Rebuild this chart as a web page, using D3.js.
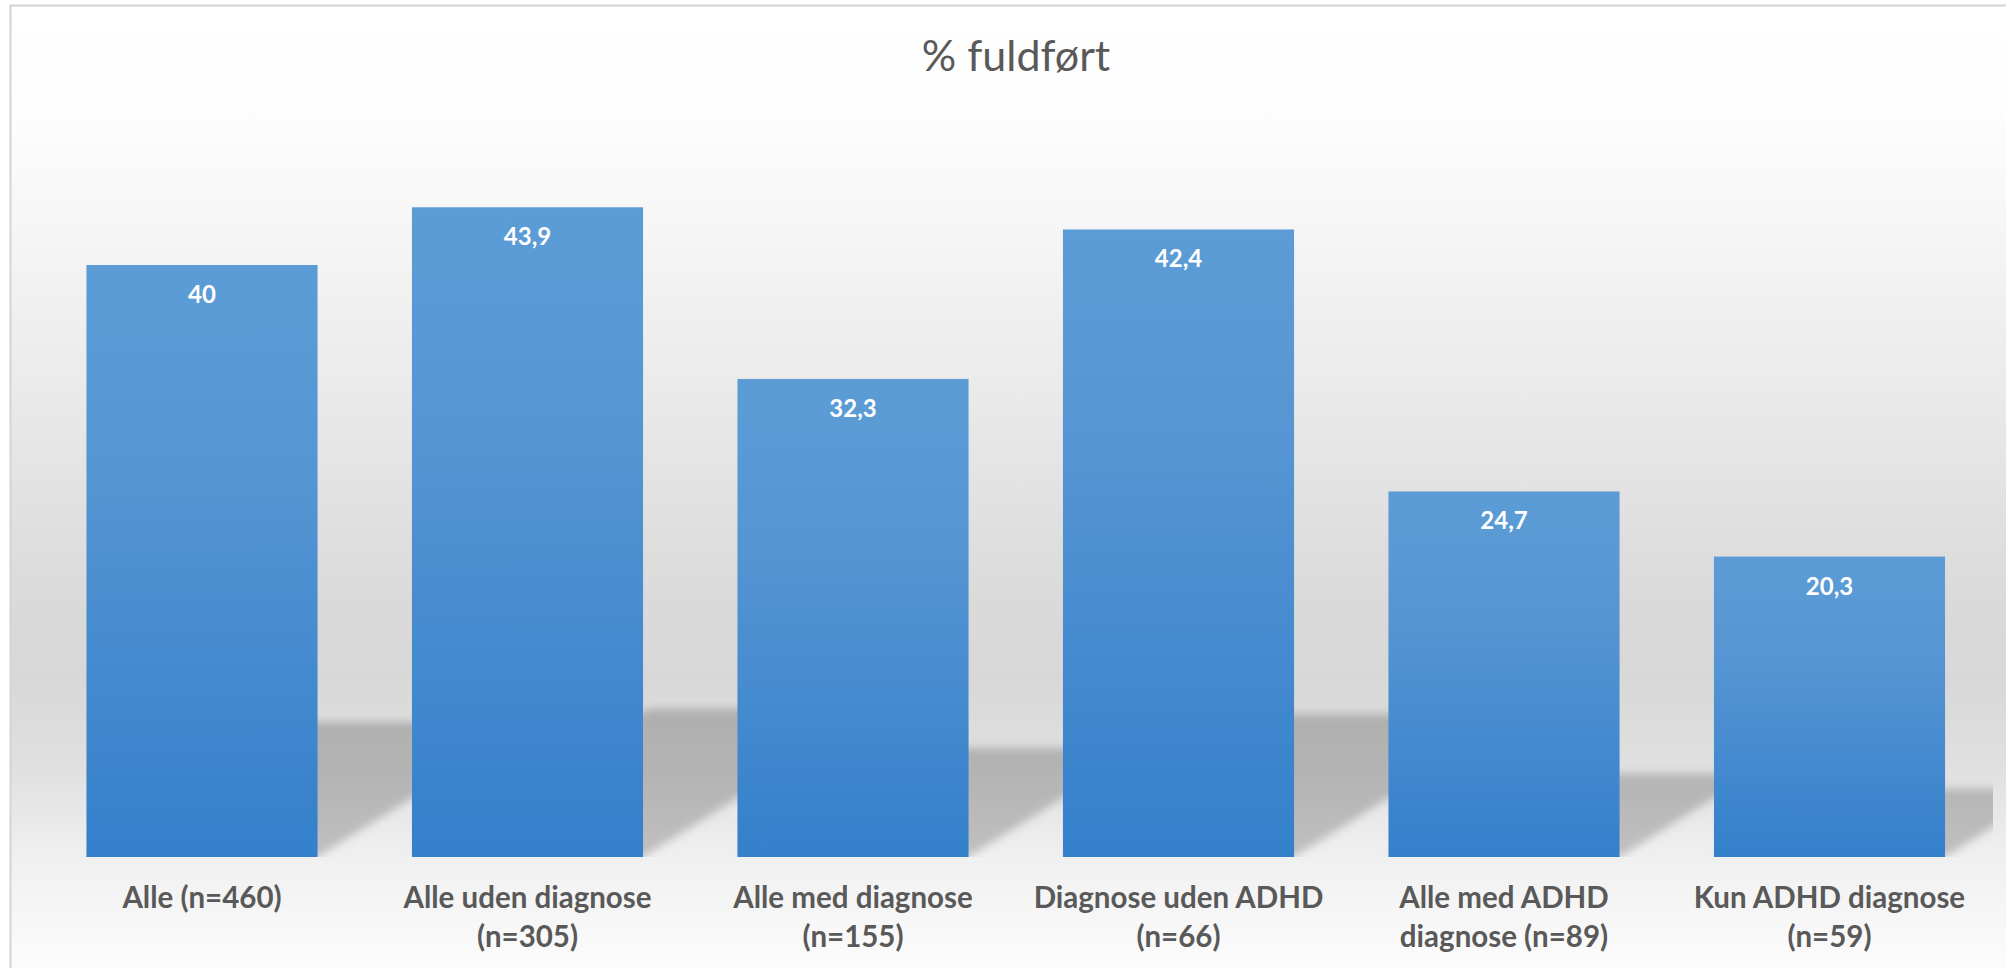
<!DOCTYPE html>
<html>
<head>
<meta charset="utf-8">
<script src="https://cdn.jsdelivr.net/npm/d3@7"></script>
<style>
  html, body { margin: 0; padding: 0; background: #ffffff; }
  svg { display: block; }
</style>
</head>
<body>
<svg id="chart" width="2006" height="968"></svg>
<script>
const title = "% fuldført";
const categories = [
  "Alle (n=460)",
  "Alle uden diagnose\n(n=305)",
  "Alle med diagnose\n(n=155)",
  "Diagnose uden ADHD\n(n=66)",
  "Alle med ADHD\ndiagnose (n=89)",
  "Kun ADHD diagnose\n(n=59)"
];
const values = [40, 43.9, 32.3, 42.4, 24.7, 20.3];
const yDomain = [0, 50];

const W = 2006, H = 968;
const svg = d3.select("#chart");
const defs = svg.append("defs");

// background gradient
const bg = defs.append("linearGradient").attr("id", "bgGrad")
  .attr("gradientUnits", "userSpaceOnUse")
  .attr("x1", 0).attr("y1", 0).attr("x2", 0).attr("y2", H);
[[0, "#ffffff"], [100, "#fefefe"], [240, "#f5f5f5"], [320, "#efefef"], [380, "#ebebeb"],
 [480, "#e3e3e3"], [600, "#dadada"], [680, "#d8d8d8"], [770, "#e0e0e0"], [858, "#f0f0f0"], [968, "#fcfcfc"]]
  .forEach(([o, c]) => bg.append("stop").attr("offset", o / H).attr("stop-color", c));

const barGrad = defs.append("linearGradient").attr("id", "barGrad")
  .attr("x1", 0).attr("y1", 0).attr("x2", 0).attr("y2", 1);
[[0, "#5c9cd6"], [0.35, "#5595d3"], [1, "#3480cb"]]
  .forEach(([o, c]) => barGrad.append("stop").attr("offset", o).attr("stop-color", c));

const blur = defs.append("filter").attr("id", "shadowBlur")
  .attr("x", "-20%").attr("y", "-20%").attr("width", "140%").attr("height", "140%");
blur.append("feGaussianBlur").attr("stdDeviation", 4);

// chart area
svg.append("rect").attr("x", 0).attr("y", 0).attr("width", W).attr("height", H).attr("fill", "#ffffff");
svg.append("rect").attr("x", 10.5).attr("y", 5.5).attr("width", W + 50).attr("height", H + 50)
  .attr("fill", "url(#bgGrad)").attr("stroke", "#d4d4d4").attr("stroke-width", 2);

const x = d3.scaleBand().domain(categories).range([39.25, 1992.25])
  .paddingInner(0.29).paddingOuter(0.145);
const y = d3.scaleLinear().domain(yDomain).range([857, 117]);

defs.append("clipPath").attr("id", "plotClip").append("rect")
  .attr("x", 39).attr("y", y(yDomain[1])).attr("width", 1993 - 39).attr("height", y(0) - y(yDomain[1]));

const data = categories.map((c, i) => ({ c, v: values[i] }));

// perspective shadows
const shadowG = svg.append("g").attr("clip-path", "url(#plotClip)");
shadowG.selectAll("path").data(data).join("path")
  .attr("d", d => {
    const x0 = x(d.c), w = x.bandwidth(), y0 = y(0);
    const sh = 0.228 * (y0 - y(d.v));
    const dx = 1.6 * sh;
    return `M${x0},${y0}L${x0 + w},${y0}L${x0 + w + dx},${y0 - sh}L${x0 + dx},${y0 - sh}Z`;
  })
  .attr("fill", "#000").attr("fill-opacity", 0.2)
  .attr("filter", "url(#shadowBlur)");

// bars
svg.append("g").selectAll("rect").data(data).join("rect")
  .attr("x", d => x(d.c)).attr("width", x.bandwidth())
  .attr("y", d => y(d.v)).attr("height", d => y(0) - y(d.v))
  .attr("fill", "url(#barGrad)");

const fmt = d3.formatLocale({ decimal: ",", thousands: ".", grouping: [3], currency: ["", ""] }).format("~g");

svg.append("g").selectAll("text").data(data).join("text")
  .attr("x", d => x(d.c) + x.bandwidth() / 2)
  .attr("y", d => y(d.v) + 38)
  .attr("text-anchor", "middle")
  .attr("font-family", "Lato, sans-serif").attr("font-weight", 700).attr("font-size", 24)
  .attr("fill", "#ffffff")
  .text(d => fmt(d.v));

// category axis labels
const xAxis = d3.axisBottom(x).tickSize(0).tickPadding(0);
const axisG = svg.append("g").attr("transform", `translate(0,${y(0)})`).call(xAxis);
axisG.select(".domain").remove();
axisG.selectAll(".tick text").each(function (d) {
  const t = d3.select(this);
  t.text(null).attr("y", 0).attr("dy", null)
    .attr("font-family", "Lato, sans-serif").attr("font-weight", 700).attr("font-size", 29.5)
    .attr("fill", "#595959");
  d.split("\n").forEach((line, i) => {
    t.append("tspan").attr("x", 0).attr("y", 51 + i * 38.5).text(line);
  });
});

// title
svg.append("text").attr("x", 1016).attr("y", 71).attr("text-anchor", "middle")
  .attr("font-family", "Lato, sans-serif").attr("font-size", 43).attr("fill", "#595959")
  .text(title);
</script>
</body>
</html>
